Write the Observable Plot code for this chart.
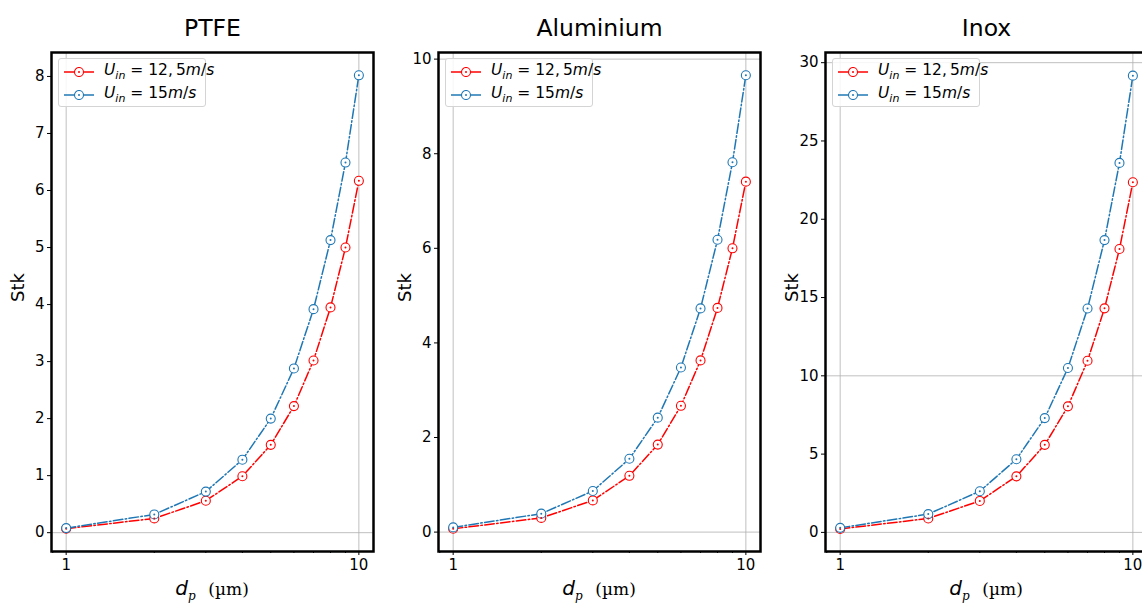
<!DOCTYPE html>
<html><head><meta charset="utf-8">
<script src="https://cdn.jsdelivr.net/npm/d3@7"></script>
<script src="https://cdn.jsdelivr.net/npm/@observablehq/plot@0.6"></script>
<style>
body{margin:0;width:1142px;height:604px;overflow:hidden;background:#fff;font-family:"DejaVu Sans",sans-serif;position:relative}
.panel{position:absolute;top:0;width:387px;height:604px}
.panel svg{position:absolute;left:0;top:0}
.legend{position:absolute;left:58px;top:58px;width:148px;height:49px;border:1px solid #d4d4d4;border-radius:3px;background:rgba(255,255,255,0.85);box-sizing:border-box;font-size:15.5px}
.row{position:absolute;left:5px;height:20px;display:flex;align-items:center;white-space:nowrap}
.row svg{position:static;margin-right:10px}
.xl{position:absolute;left:51px;width:322px;top:578px;text-align:center;font-size:20px;line-height:20px}
g[aria-label*="tick label"], g[aria-label*="tick label"] text{font-size:15px !important}
</style></head>
<body>
<div id="root"></div>
<script>
const dp = [1, 2, 3, 4, 5, 6, 7, 8, 9, 10];
const minorTicks = [0.9, 2, 3, 4, 5, 6, 7, 8, 9];
const titles = ["PTFE", "Aluminium", "Inox"];
const ptfe125 = [0.07, 0.25, 0.56, 0.99, 1.54, 2.22, 3.02, 3.95, 5.00, 6.17];
const ptfe15  = [0.08, 0.32, 0.72, 1.28, 2.00, 2.88, 3.92, 5.13, 6.49, 8.02];
const alu125  = [0.07, 0.30, 0.67, 1.19, 1.85, 2.67, 3.63, 4.74, 6.00, 7.41];
const alu15   = [0.10, 0.39, 0.87, 1.55, 2.42, 3.48, 4.73, 6.18, 7.82, 9.66];
const inox125 = [0.22, 0.89, 2.01, 3.58, 5.59, 8.05, 10.96, 14.31, 18.10, 22.36];
const inox15  = [0.29, 1.17, 2.63, 4.67, 7.30, 10.50, 14.30, 18.67, 23.60, 29.17];
const ptfeTicks = [0, 1, 2, 3, 4, 5, 6, 7, 8];
const aluTicks = [0, 2, 4, 6, 8, 10];
const inoxTicks = [0, 5, 10, 15, 20, 25, 30];
const ptfeGrid = [0];
const aluGrid = [0, 10];
const inoxGrid = [0, 10, 30];
const seriesNames = ["12,&thinsp;5", "15"];
const colors = ["#ff0000", "#1f77b4"];

const dash = "9.6,2.4,1.5,2.4";

function makePanel(title, red, blue, yDomain, yTicks, yGrid) {
  const r = dp.map((d, i) => ({dp: d, stk: red[i]}));
  const b = dp.map((d, i) => ({dp: d, stk: blue[i]}));
  return Plot.plot({
    width: 387, height: 604,
    marginLeft: 51, marginRight: 14, marginTop: 52, marginBottom: 53,
    style: {fontFamily: "DejaVu Sans", fontSize: "15px", color: "black", background: "transparent", overflow: "visible"},
    x: {type: "log", domain: [0.891, 11.22]},
    y: {domain: yDomain},
    marks: [
      Plot.ruleX([1, 10], {stroke: "#b0b0b0", strokeWidth: 0.8}),
      Plot.ruleY(yGrid, {stroke: "#b0b0b0", strokeWidth: 0.8}),
      Plot.line(r, {x: "dp", y: "stk", stroke: colors[0], strokeWidth: 1.5, strokeDasharray: dash}),
      Plot.line(b, {x: "dp", y: "stk", stroke: colors[1], strokeWidth: 1.5, strokeDasharray: dash}),
      Plot.dot(r, {x: "dp", y: "stk", r: 4.5, stroke: colors[0], fill: "white", strokeWidth: 1.1}),
      Plot.dot(b, {x: "dp", y: "stk", r: 4.5, stroke: colors[1], fill: "white", strokeWidth: 1.1}),
      Plot.dot(r, {x: "dp", y: "stk", r: 1, fill: colors[0]}),
      Plot.dot(b, {x: "dp", y: "stk", r: 1, fill: colors[1]}),
      Plot.frame({stroke: "black", strokeWidth: 2.5}),
      Plot.axisY({ticks: yTicks, tickSize: 4, tickPadding: 3, label: null, fontSize: 15, tickFormat: d => String(d)}),
      Plot.axisX({ticks: [1, 10], tickSize: 4, tickPadding: 4, label: null, fontSize: 15, tickFormat: d => String(d)}),
      Plot.axisX({ticks: minorTicks, tickSize: 2, label: null, tickFormat: () => ""}),
      Plot.text([title], {frameAnchor: "top", dy: -33, fontSize: 23.5}),
      Plot.text(["Stk"], {frameAnchor: "left", dx: -33, rotate: -90, fontSize: 18})
    ]
  });
}

function swatch(color) {
  return `<svg width="30" height="10"><line x1="0" y1="5" x2="30" y2="5" stroke="${color}" stroke-width="1.5"/><circle cx="15" cy="5" r="4.5" fill="white" stroke="${color}" stroke-width="1.1"/><circle cx="15" cy="5" r="1" fill="${color}"/></svg>`;
}

const root = document.getElementById("root");
const panels = [
  [titles[0], ptfe125, ptfe15, [-0.33, 8.42], ptfeTicks, ptfeGrid],
  [titles[1], alu125, alu15, [-0.41, 10.14], aluTicks, aluGrid],
  [titles[2], inox125, inox15, [-1.22, 30.65], inoxTicks, inoxGrid]
];
panels.forEach((p, i) => {
  const div = document.createElement("div");
  div.className = "panel";
  div.style.left = (i * 387) + "px";
  div.appendChild(makePanel(...p));
  const lg = document.createElement("div");
  lg.className = "legend";
  lg.innerHTML = seriesNames.map((s, k) =>
    `<div class="row" style="top:${3 + k * 23}px">${swatch(colors[k])}<span><i>U</i><sub style="font-size:11px"><i>in</i></sub> = ${s}<i>m</i>/<i>s</i></span></div>`).join("");
  div.appendChild(lg);
  const xl = document.createElement("div");
  xl.className = "xl";
  xl.innerHTML = `<i>d</i><sub style="font-family:'DejaVu Serif';font-style:italic;font-size:12px">p</sub>&nbsp;&nbsp;<span style="font-family:'DejaVu Serif';font-size:17px">(µm)</span>`;
  div.appendChild(xl);
  root.appendChild(div);
});
</script>
</body></html>
